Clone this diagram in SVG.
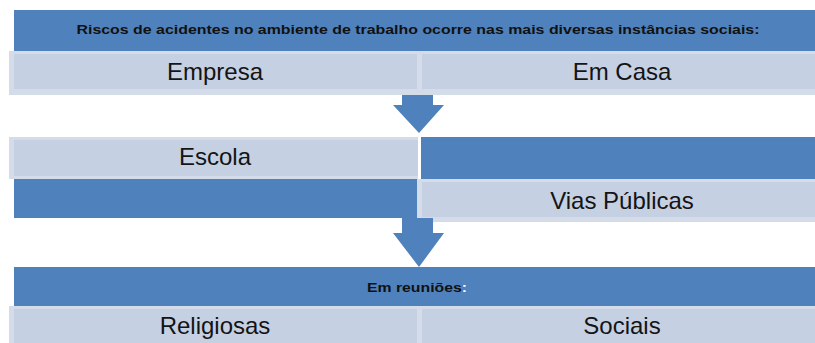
<svg xmlns="http://www.w3.org/2000/svg" width="815" height="343" viewBox="0 0 815 343">
<style>
.blue{fill:#4f81bd}
.lo{fill:#d4dbe9}
.li{fill:#c5d0e3}
.big{font-family:"Liberation Sans",Arial,sans-serif;font-size:24px;fill:#141414;text-anchor:middle}
.hdr{font-family:"Liberation Sans",Arial,sans-serif;font-size:12.5px;font-weight:bold;fill:#111;text-anchor:middle}
.arrow{fill:#4f81bd}
</style>
<rect width="815" height="343" fill="#ffffff"/>
<g id="titulo">
<rect class="blue" x="14" y="10" width="801" height="41"/>
<text class="hdr" x="418" y="34" textLength="683" lengthAdjust="spacingAndGlyphs">Riscos de acidentes no ambiente de trabalho ocorre nas mais diversas instâncias sociais:</text>
</g>
<g id="empresa">
<rect class="lo" x="9" y="51" width="409" height="44"/>
<rect class="li" x="14" y="54" width="404" height="35"/>
<text class="big" x="215" y="80">Empresa</text>
</g>
<g id="emcasa">
<rect class="lo" x="417" y="51" width="398" height="44"/>
<rect class="li" x="422" y="54" width="393" height="35"/>
<text class="big" x="622" y="80">Em Casa</text>
</g>
<g id="escola">
<rect class="lo" x="9" y="137" width="409" height="42"/>
<rect class="li" x="14" y="140" width="404" height="36"/>
<text class="big" x="215" y="165">Escola</text>
</g>
<g id="escola-barra">
<rect class="blue" x="421" y="137" width="394" height="42"/>
</g>
<g id="vias-barra">
<rect class="blue" x="14" y="179" width="403" height="39"/>
</g>
<g id="vias">
<rect class="lo" x="417" y="179" width="398" height="43"/>
<rect class="li" x="422" y="182" width="393" height="35"/>
<text class="big" x="622" y="209">Vias Públicas</text>
</g>
<g id="reunioes">
<rect class="blue" x="14" y="267" width="801" height="39"/>
<text class="hdr" x="417" y="292" textLength="100" lengthAdjust="spacingAndGlyphs">Em reuniões<tspan fill="#ffffff">:</tspan></text>
</g>
<g id="religiosas">
<rect class="lo" x="9" y="306" width="409" height="37"/>
<rect class="li" x="14" y="309" width="404" height="34"/>
<text class="big" x="215" y="334">Religiosas</text>
</g>
<g id="sociais">
<rect class="lo" x="417" y="306" width="398" height="37"/>
<rect class="li" x="422" y="309" width="393" height="34"/>
<text class="big" x="622" y="334">Sociais</text>
</g>
<g id="conectores">
<path class="arrow" d="M402,95 L433,95 L433,105 L444,105 L419,133 L393,105 L402,105 Z"/>
<path class="arrow" d="M402,218 L433,218 L433,233 L444,233 L419,267 L393,233 L402,233 Z"/>
</g>
</svg>
